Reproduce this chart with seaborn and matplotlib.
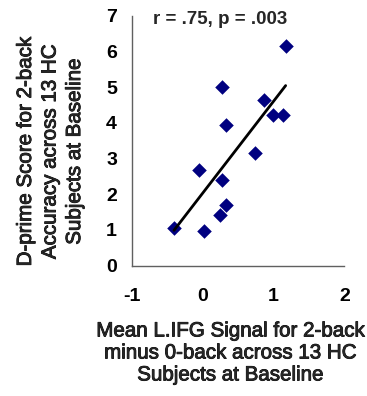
import numpy as np
import pandas as pd
import seaborn as sns
import matplotlib.pyplot as plt
import matplotlib.patheffects as pe

# values
lifg_signal = [-0.41, 0.01, -0.06, 0.27, 0.33, 0.27, 0.24, 0.33, 0.73, 0.86, 0.99, 1.13, 1.17]
dprime = [1.06, 0.98, 2.69, 5.00, 3.94, 2.40, 1.42, 1.70, 3.16, 4.64, 4.22, 4.22, 6.15]
x_ticks = [-1, 0, 1, 2]
y_ticks = [0, 1, 2, 3, 4, 5, 6, 7]
stat_text = "r = .75, p = .003"
xlabel = "Mean L.IFG Signal for 2-back\nminus 0-back across 13 HC\nSubjects at Baseline"
ylabel = "D-prime Score for 2-back\nAccuracy across 13 HC\nSubjects at Baseline"

sns.set_style("white")
plt.rcParams['font.family'] = ['Liberation Sans', 'DejaVu Sans']

df = pd.DataFrame({'signal': lifg_signal, 'dprime': dprime})

fig = plt.figure(figsize=(3.67, 3.96), dpi=100)
ax = fig.add_axes([132.3 / 367, 1 - 265.7 / 396, 212 / 367, 250 / 396])

sns.regplot(data=df, x='signal', y='dprime', ax=ax, ci=None, marker='D',
            scatter_kws={'s': 55, 'color': '#000080', 'linewidths': 0, 'alpha': 1},
            line_kws={'color': 'black', 'lw': 2.0})

ax.set_xlim(-1, 2)
ax.set_ylim(0, 7)
ax.set_xticks(x_ticks)
ax.set_yticks(y_ticks)
ax.set_xticklabels([str(t) for t in x_ticks], fontweight='bold', fontsize=14)
ax.set_yticklabels([str(t) for t in y_ticks], fontweight='bold', fontsize=14)

# spines: only left and bottom, gray
sns.despine(ax=ax)
for side in ['left', 'bottom']:
    ax.spines[side].set_color('#606060')
    ax.spines[side].set_linewidth(1.0)
ax.tick_params(axis='both', direction='out', length=5, width=1.0, color='#606060', labelcolor='black')
ax.tick_params(axis='x', pad=11)
ax.tick_params(axis='y', pad=6)

# regular weight, slightly thickened to look like the reference
thicken = [pe.withStroke(linewidth=0.6, foreground='black')]
ax.set_xlabel(xlabel, fontsize=14.8, linespacing=1.2, path_effects=thicken)
ax.set_ylabel(ylabel, fontsize=14.8, linespacing=1.37, path_effects=thicken)
ax.xaxis.set_label_coords(0.461, -0.349)
ax.yaxis.set_label_coords(-0.388, 0.455)
ax.xaxis.label.set_verticalalignment('center')
ax.yaxis.label.set_verticalalignment('center')

ax.text(0.414, 0.983, stat_text, transform=ax.transAxes, ha='center', va='center',
        fontsize=13.5, fontweight='bold')

plt.savefig('out.png', dpi=100)
plt.close()
